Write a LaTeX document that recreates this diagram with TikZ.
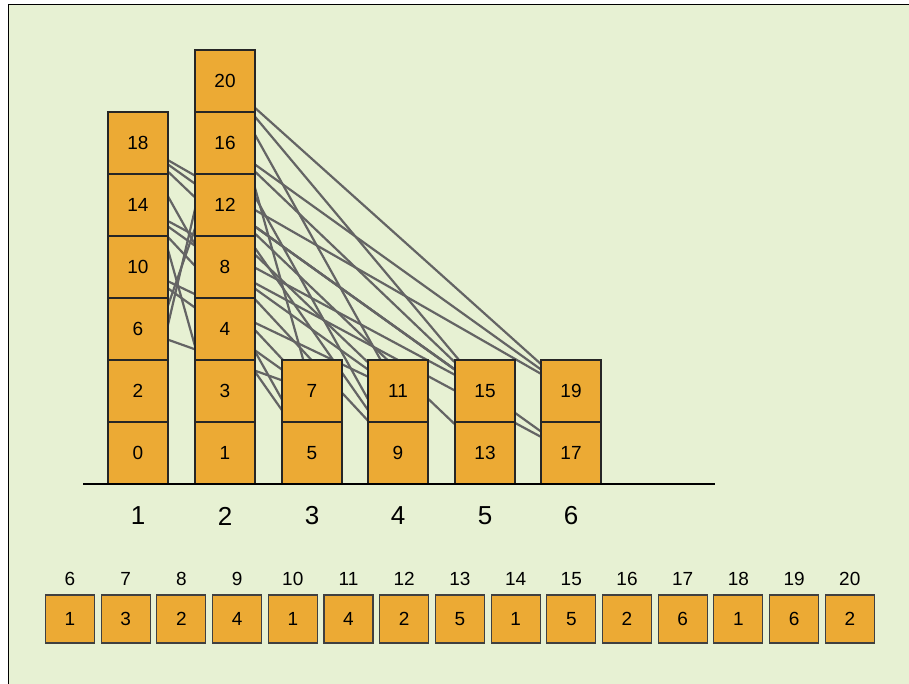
\documentclass[tikz,border=0pt]{standalone}
\usepackage{fontspec}
\setmainfont{Liberation Sans}
\usetikzlibrary{positioning}
\definecolor{bgreen}{RGB}{231,241,211}
\definecolor{cellor}{RGB}{236,170,52}
\definecolor{linkgr}{RGB}{100,100,100}
\tikzset{
  cell/.style={draw=black!85, line width=1.3pt, fill=cellor, minimum width=60pt, minimum height=62pt, inner sep=0, font=\fontsize{19}{19}\selectfont},
  slot/.style={draw=black!75, line width=1.1pt, fill=cellor, minimum width=49pt, minimum height=48pt, inner sep=0, font=\fontsize{19}{19}\selectfont},
  link/.style={draw=linkgr, line width=2.2pt},
  collab/.style={font=\fontsize{26}{26}\selectfont},
  idxlab/.style={font=\fontsize{19}{19}\selectfont}
}
\begin{document}
\begin{tikzpicture}[x=1pt, y=-1pt]
\useasboundingbox (0,0) rectangle (909,683);
\begin{scope}
\clip (0,0) rectangle (909,683);
\draw[fill=bgreen, line width=1pt] (8,4) rectangle (920,690);
\end{scope}
% cell centres (columns 1..6)
\coordinate (c0) at (138,453);
\coordinate (c2) at (138,391);
\coordinate (c6) at (138,329);
\coordinate (c10) at (138,267);
\coordinate (c14) at (138,205);
\coordinate (c18) at (138,143);
\coordinate (c1) at (225,453);
\coordinate (c3) at (225,391);
\coordinate (c4) at (225,329);
\coordinate (c8) at (225,267);
\coordinate (c12) at (225,205);
\coordinate (c16) at (225,143);
\coordinate (c20) at (225,81);
\coordinate (c5) at (312,453);
\coordinate (c7) at (312,391);
\coordinate (c9) at (398,453);
\coordinate (c11) at (398,391);
\coordinate (c13) at (485,453);
\coordinate (c15) at (485,391);
\coordinate (c17) at (571,453);
\coordinate (c19) at (571,391);
% links behind the cells
\foreach \a/\b in {20/19, 20/15, 20/11, 20/7, 20/0,
                   16/19, 16/15, 16/9, 16/2,
                   18/19, 18/15, 18/11, 18/5, 18/1,
                   12/17, 12/15, 12/13, 12/9,
                   14/15, 14/11, 14/7,
                   10/11, 10/7, 8/9, 8/17, 6/7, 4/5}
  \draw[link] (c\a) -- (c\b);
% cells
\foreach \n/\x/\y in {0/138/453, 2/138/391, 6/138/329, 10/138/267, 14/138/205, 18/138/143,
                      1/225/453, 3/225/391, 4/225/329, 8/225/267, 12/225/205, 16/225/143, 20/225/81,
                      5/312/453, 7/312/391, 9/398/453, 11/398/391,
                      13/485/453, 15/485/391, 17/571/453, 19/571/391}
  \node[cell] (n\n) at (\x,\y) {\n};
% baseline and column numbers
\coordinate (bl) at (83,484);
\coordinate (br) at (715,484);
\draw[line width=1.8pt] (bl) -- (br);
\foreach \k/\x in {1/138, 2/225, 3/312, 4/398, 5/485, 6/571}
  \node[collab] (col\k) at (\x,516) {\k};
% array of values
\foreach \i/\v [count=\k from 0] in {6/1, 7/3, 8/2, 9/4, 10/1, 11/4, 12/2, 13/5, 14/1, 15/5, 16/2, 17/6, 18/1, 19/6, 20/2} {
  \node[slot] (s\i) at (70+55.7*\k,619) {\v};
  \node[idxlab, above=5pt of s\i] (l\i) {\i};
}
\end{tikzpicture}
\end{document}
